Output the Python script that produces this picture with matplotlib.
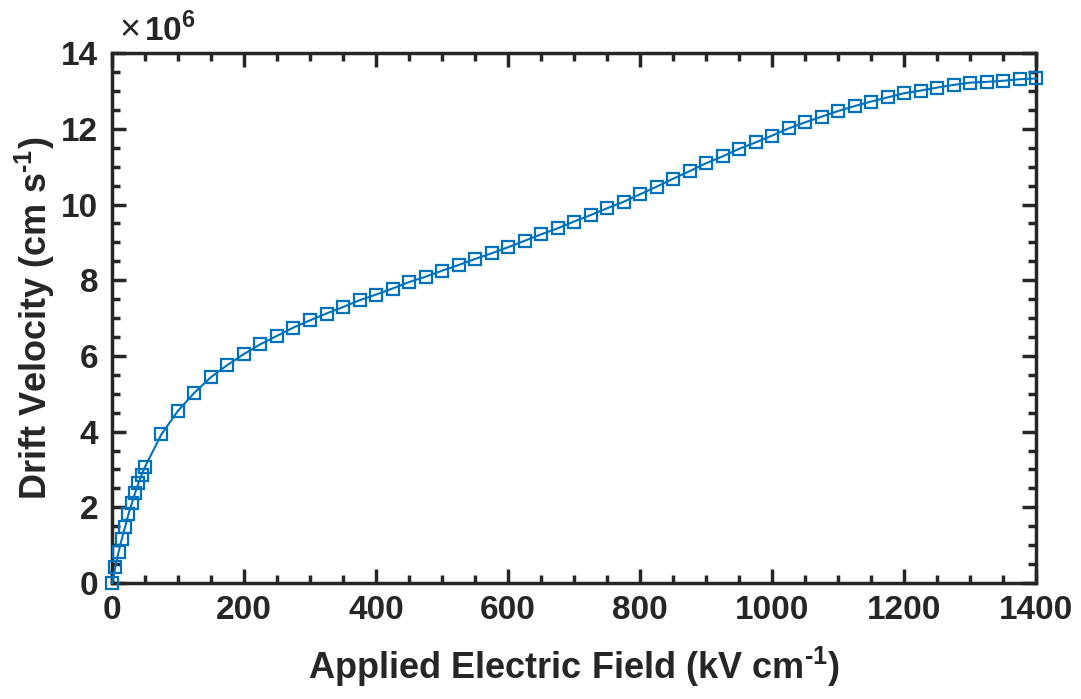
import matplotlib.pyplot as plt
from matplotlib.ticker import MultipleLocator

plt.rcParams['font.family'] = ['Liberation Sans', 'DejaVu Sans']
plt.rcParams['font.weight'] = 'bold'
plt.rcParams['mathtext.fontset'] = 'custom'
plt.rcParams['mathtext.rm'] = 'Liberation Sans:bold'
plt.rcParams['mathtext.bf'] = 'Liberation Sans:bold'

# Applied field (kV/cm) and drift velocity (x1e6 cm/s)
field = [0, 5, 10, 15, 20, 25, 30, 35, 40, 45, 50, 75, 100, 125, 150, 175,
         200, 225, 250, 275, 300, 325, 350, 375, 400, 425, 450, 475, 500,
         525, 550, 575, 600, 625, 650, 675, 700, 725, 750, 775, 800, 825,
         850, 875, 900, 925, 950, 975, 1000, 1025, 1050, 1075, 1100, 1125,
         1150, 1175, 1200, 1225, 1250, 1275, 1300, 1325, 1350, 1375, 1400]
velocity = [0.0, 0.41, 0.82, 1.17, 1.49, 1.82, 2.10, 2.38, 2.63, 2.86, 3.07,
            3.93, 4.55, 5.03, 5.44, 5.76, 6.05, 6.31, 6.53, 6.75, 6.94,
            7.12, 7.29, 7.47, 7.62, 7.78, 7.95, 8.09, 8.25, 8.40, 8.56,
            8.71, 8.87, 9.04, 9.21, 9.37, 9.55, 9.72, 9.90, 10.07, 10.27,
            10.47, 10.68, 10.88, 11.09, 11.27, 11.47, 11.64, 11.82, 12.01,
            12.17, 12.32, 12.47, 12.60, 12.72, 12.83, 12.94, 13.01, 13.09,
            13.16, 13.22, 13.24, 13.27, 13.31, 13.33]

axis_col = '#262626'
line_col = '#0072BD'

fig = plt.figure(figsize=(10.81, 6.99), dpi=100)
ax = fig.add_axes([0.1036, 0.166, 0.8548, 0.758])

ax.plot(field, velocity, color=line_col, lw=1.5, marker='s', ms=9,
        mfc='none', mew=1.6, clip_on=False, zorder=3)

ax.set_xlim(0, 1400)
ax.set_ylim(0, 14)
ax.xaxis.set_major_locator(MultipleLocator(200))
ax.xaxis.set_minor_locator(MultipleLocator(50))
ax.yaxis.set_major_locator(MultipleLocator(2))
ax.yaxis.set_minor_locator(MultipleLocator(0.5))

for s in ax.spines.values():
    s.set_linewidth(2.5)
    s.set_color(axis_col)
ax.tick_params(which='both', direction='in', top=True, right=True,
               colors=axis_col, labelsize=24)
ax.tick_params(axis='x', pad=9)
ax.tick_params(axis='y', pad=10)
ax.tick_params(which='major', length=10, width=2.5)
ax.tick_params(which='minor', length=6, width=2.5)
for lbl in ax.get_xticklabels() + ax.get_yticklabels():
    lbl.set_fontweight('bold')

ax.set_xlabel(r'Applied Electric Field (kV cm$^{\text{-}1}$)', fontsize=26,
              fontweight='bold', color=axis_col, labelpad=13)
ax.set_ylabel(r'Drift Velocity (cm s$^{\text{-}1}$)', fontsize=26,
              fontweight='bold', color=axis_col, labelpad=3)

ax.text(0.008, 1.01, '\u00d7', transform=ax.transAxes, fontsize=26,
        color=axis_col, ha='left', va='bottom', fontweight='normal')
ax.text(0.035, 1.01, r'10$^{6}$', transform=ax.transAxes, fontsize=24,
        color=axis_col, ha='left', va='bottom', fontweight='bold')

fig.savefig('out.png', dpi=100, facecolor='white')
